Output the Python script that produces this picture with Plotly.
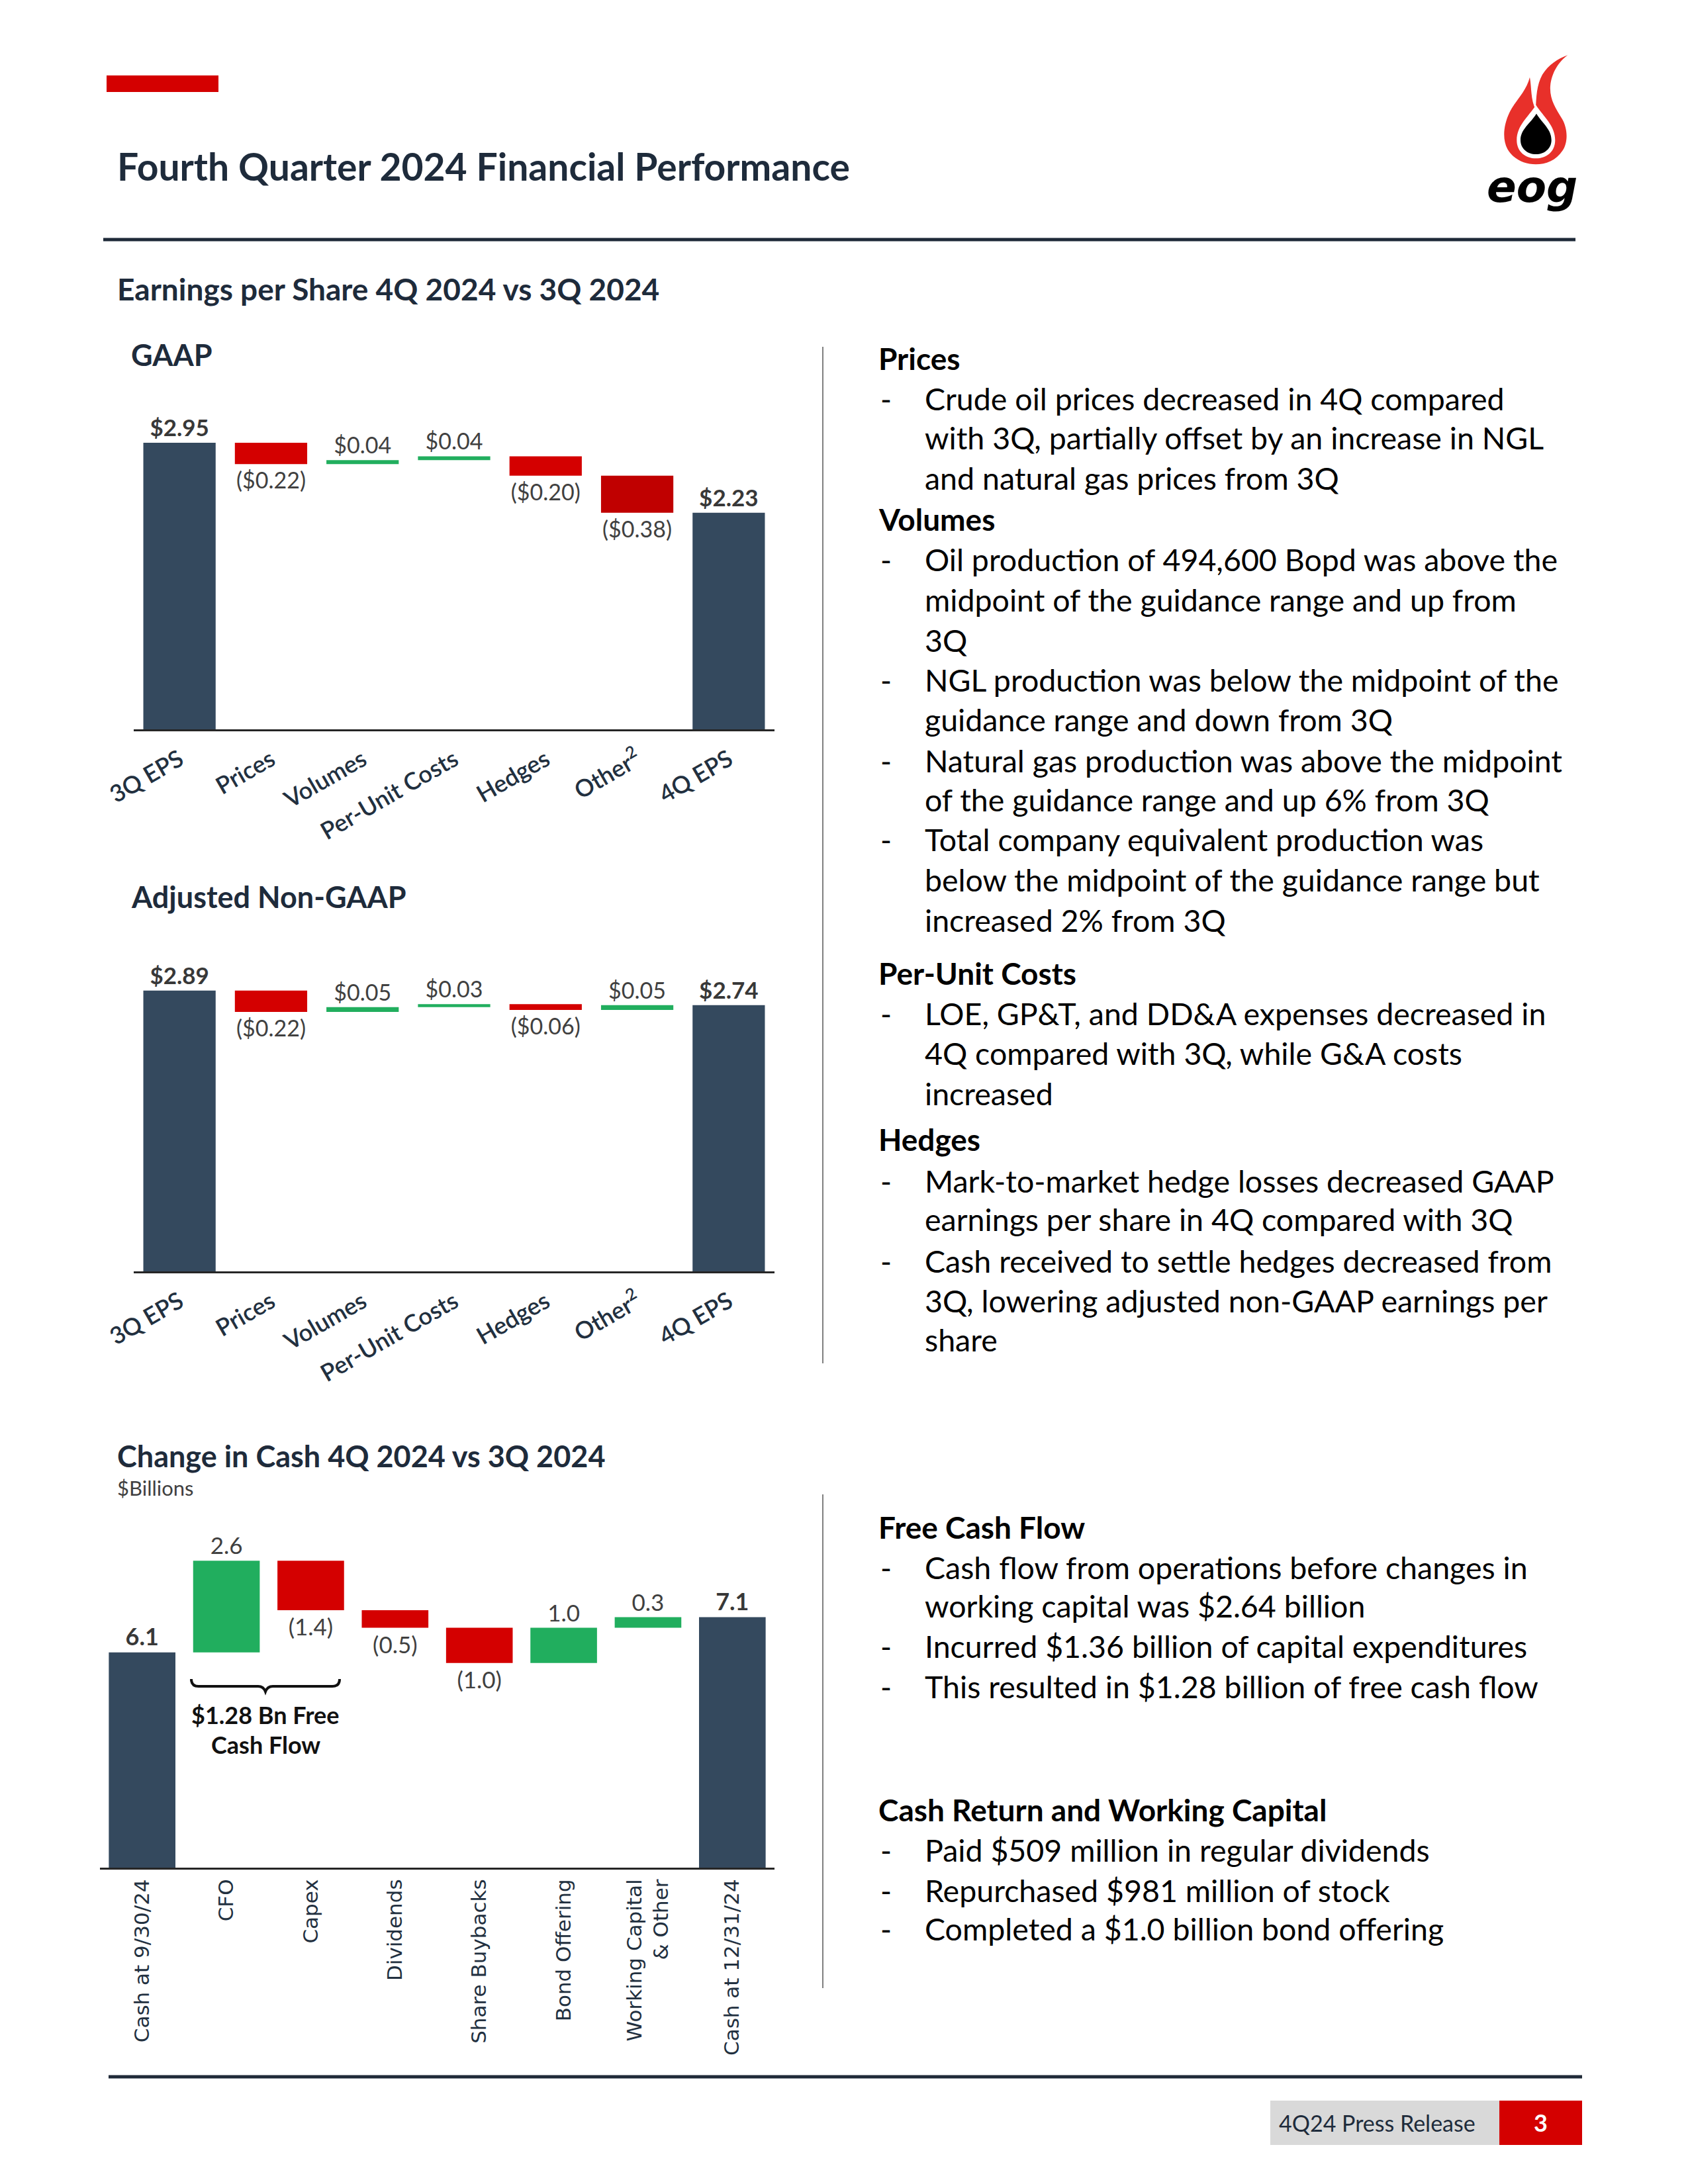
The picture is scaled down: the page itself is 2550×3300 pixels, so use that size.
import re
import plotly.graph_objects as go

# ------------------------------------------------------------------ data
eps_categories = ["3Q EPS", "Prices", "Volumes", "Per-Unit Costs", "Hedges",
                  "Other<sup>2</sup>", "4Q EPS"]
gaap_start = 2.95
gaap_changes = [-0.22, 0.04, 0.04, -0.20, -0.38]
gaap_end = 2.23

adj_start = 2.89
adj_changes = [-0.22, 0.05, 0.03, -0.06, 0.05]
adj_end = 2.74

cash_categories = ["Cash at 9/30/24", "CFO", "Capex", "Dividends", "Share Buybacks",
                   "Bond Offering", "Working Capital<br>& Other", "Cash at 12/31/24"]
cash_start = 6.1
cash_changes = [2.6, -1.4, -0.5, -1.0, 1.0, 0.3]
cash_end = 7.1

right_panel = [
    ("h", "Prices", 545),
    ("b", "Crude oil prices decreased in 4Q compared", 606),
    ("c", "with 3Q, partially offset by an increase in NGL", 665),
    ("c", "and natural gas prices from 3Q", 726),
    ("h", "Volumes", 788),
    ("b", "Oil production of 494,600 Bopd was above the", 849),
    ("c", "midpoint of the guidance range and up from", 910),
    ("c", "3Q", 971),
    ("b", "NGL production was below the midpoint of the", 1031),
    ("c", "guidance range and down from 3Q", 1091),
    ("b", "Natural gas production was above the midpoint", 1153),
    ("c", "of the guidance range and up 6% from 3Q", 1212),
    ("b", "Total company equivalent production was", 1272),
    ("c", "below the midpoint of the guidance range but", 1333),
    ("c", "increased 2% from 3Q", 1394),
    ("h", "Per-Unit Costs", 1474),
    ("b", "LOE, GP&amp;T, and DD&amp;A expenses decreased in", 1535),
    ("c", "4Q compared with 3Q, while G&amp;A costs", 1595),
    ("c", "increased", 1656),
    ("h", "Hedges", 1725),
    ("b", "Mark-to-market hedge losses decreased GAAP", 1788),
    ("c", "earnings per share in 4Q compared with 3Q", 1846),
    ("b", "Cash received to settle hedges decreased from", 1909),
    ("c", "3Q, lowering adjusted non-GAAP earnings per", 1969),
    ("c", "share", 2028),
    ("h", "Free Cash Flow", 2311),
    ("b", "Cash flow from operations before changes in", 2372),
    ("c", "working capital was $2.64 billion", 2430),
    ("b", "Incurred $1.36 billion of capital expenditures", 2491),
    ("b", "This resulted in $1.28 billion of free cash flow", 2552),
    ("h", "Cash Return and Working Capital", 2738),
    ("b", "Paid $509 million in regular dividends", 2799),
    ("b", "Repurchased $981 million of stock", 2860),
    ("b", "Completed a $1.0 billion bond offering", 2918),
]

# ------------------------------------------------------------------ styles
W, H = 2550, 3300
FONT = "Lato, 'Open Sans', sans-serif"
NAVY = "#34495E"
RED = "#D40000"
DARK_RED = "#C00000"
GREEN = "#21AE5E"
TITLE_COL = "#1E2B3B"
LABEL_COL = "#404040"
TOTAL_COL = "#383838"
gaap_colors = [RED, GREEN, GREEN, RED, DARK_RED]
adj_colors = [RED, GREEN, GREEN, RED, GREEN]
cash_colors = [GREEN, RED, RED, RED, GREEN, GREEN]
TEXT_DY = -4

fig = go.Figure()


def px_x(v):
    return v / W


def px_y(v):
    return 1 - v / H


def add_waterfall(cats, start, changes, end, colors, xa, ya, fmt_total, fmt_delta,
                  label_size, bar_w):
    fig.add_trace(go.Bar(
        x=[cats[0], cats[-1]], y=[start, end], base=[0, 0], width=bar_w,
        marker=dict(color=NAVY, line=dict(width=0)),
        text=[fmt_total(start), fmt_total(end)], textposition="outside",
        textfont=dict(family=FONT, size=label_size + 1, color=TOTAL_COL, weight="bold"),
        cliponaxis=False, constraintext="none", xaxis=xa, yaxis=ya,
        hoverinfo="skip"))
    bases = []
    level = start
    for c in changes:
        bases.append(level)
        level += c
    fig.add_trace(go.Bar(
        x=cats[1:-1], y=changes, base=bases, width=bar_w,
        marker=dict(color=colors, line=dict(width=0)),
        text=[fmt_delta(c) for c in changes], textposition="outside",
        textfont=dict(family=FONT, size=label_size, color=LABEL_COL),
        cliponaxis=False, constraintext="none", xaxis=xa, yaxis=ya,
        hoverinfo="skip"))


def eps_total(v):
    return f"${v:.2f}"


def eps_delta(v):
    return f"${v:.2f}" if v >= 0 else f"(${abs(v):.2f})"


def cash_total(v):
    return f"{v:.1f}"


def cash_delta(v):
    return f"{v:.1f}" if v >= 0 else f"({abs(v):.1f})"


add_waterfall(eps_categories, gaap_start, gaap_changes, gaap_end, gaap_colors,
              "x", "y", eps_total, eps_delta, 34, 0.79)
add_waterfall(eps_categories, adj_start, adj_changes, adj_end, adj_colors,
              "x2", "y2", eps_total, eps_delta, 34, 0.79)
add_waterfall(cash_categories, cash_start, cash_changes, cash_end, cash_colors,
              "x3", "y3", cash_total, cash_delta, 35, 0.79)

# page overlay axis in pixel units
fig.add_trace(go.Scatter(x=[0, W], y=[0, H], mode="markers", marker=dict(opacity=0),
                         xaxis="x4", yaxis="y4", hoverinfo="skip", showlegend=False))

EPS_SCALE = 146.8   # px per $ (page pixels)
CASH_SCALE = 53.3   # px per $bn


def xaxis_cfg(x0, x1, anchor, cats, angle, tfont, standoff):
    return dict(domain=[px_x(x0), px_x(x1)], anchor=anchor, type="category",
                categoryorder="array", categoryarray=cats,
                showline=True, linecolor="#262626", linewidth=3, ticks="",
                tickangle=angle, tickfont=tfont, showgrid=False, zeroline=False,
                ticklabelstandoff=standoff, fixedrange=True)


def yaxis_cfg(top, bottom, anchor, scale):
    return dict(domain=[px_y(bottom), px_y(top)], anchor=anchor,
                range=[0, (bottom - top) / scale], visible=False,
                showgrid=False, zeroline=False, fixedrange=True)


eps_tick_font = dict(family=FONT, size=36, color="#22303F", weight=600)
cash_tick_font = dict(family="'DejaVu Sans', Verdana, sans-serif", size=31, color="#22303F")

fig.update_layout(
    width=W, height=H, margin=dict(l=0, r=0, t=0, b=0),
    paper_bgcolor="white", plot_bgcolor="rgba(0,0,0,0)",
    showlegend=False, barmode="overlay", template="none",
    xaxis=xaxis_cfg(202, 1170, "y", eps_categories, -30, eps_tick_font, 8),
    yaxis=yaxis_cfg(600, 1102, "x", EPS_SCALE),
    xaxis2=xaxis_cfg(202, 1170, "y2", eps_categories, -30, eps_tick_font, 8),
    yaxis2=yaxis_cfg(1420, 1921, "x2", EPS_SCALE),
    xaxis3=xaxis_cfg(151, 1170, "y3", cash_categories, -90, cash_tick_font, 2),
    yaxis3=yaxis_cfg(2320, 2822, "x3", CASH_SCALE),
    xaxis4=dict(domain=[0, 1], anchor="y4", range=[0, W], visible=False, fixedrange=True),
    yaxis4=dict(domain=[0, 1], anchor="x4", range=[H, 0], visible=False, fixedrange=True),
)

shapes = []
annots = []


def rect(x0, y0, x1, y1, color):
    shapes.append(dict(type="rect", xref="x4", yref="y4", x0=x0, y0=y0, x1=x1, y1=y1,
                       fillcolor=color, line=dict(width=0), layer="above"))


def hline(x0, x1, y, color, width):
    shapes.append(dict(type="line", xref="x4", yref="y4", x0=x0, x1=x1, y0=y, y1=y,
                       line=dict(color=color, width=width), layer="above"))


def vline(x, y0, y1, color, width):
    shapes.append(dict(type="line", xref="x4", yref="y4", x0=x, x1=x, y0=y0, y1=y1,
                       line=dict(color=color, width=width), layer="above"))


def text(x, y, s, size, color="#000000", bold=False, anchor="left", family=FONT,
         italic=False):
    f = dict(family=family, size=size, color=color)
    if bold:
        f["weight"] = "bold"
    if italic:
        f["style"] = "italic"
    annots.append(dict(xref="x4", yref="y4", x=x, y=y, text=s, showarrow=False,
                       xanchor=anchor, yanchor="middle", font=f, align="center"))


# header
rect(161, 114, 330, 139, "#D40000")
text(175, 255 + TEXT_DY, "Fourth Quarter 2024 Financial Performance", 57, TITLE_COL, bold=True)
hline(156, 2380, 362, "#1F2A38", 5)

# section titles
text(175, 436, "Earnings per Share 4Q 2024 vs 3Q 2024", 46, TITLE_COL, bold=True)
text(196, 536, "GAAP", 45, TITLE_COL, bold=True)
text(196, 1355, "Adjusted Non-GAAP", 45, TITLE_COL, bold=True)
text(175, 2200, "Change in Cash 4Q 2024 vs 3Q 2024", 45, TITLE_COL, bold=True)
text(175, 2248, "$Billions", 31, "#404040")

# free cash flow brace + label
shapes.append(dict(type="path", xref="x4", yref="y4", layer="above",
                   path="M 289,2537 Q 289,2548 300,2548 L 390,2548 Q 398,2548 401,2556 "
                        "Q 404,2548 412,2548 L 502,2548 Q 513,2548 513,2537",
                   line=dict(color="#111111", width=4)))
text(401, 2591, "$1.28 Bn Free", 36, "#111111", bold=True, anchor="center")
text(401, 2636, "Cash Flow", 36, "#111111", bold=True, anchor="center")

# separators
vline(1243, 524, 2060, "#808080", 2)
vline(1243, 2258, 3004, "#808080", 2)

# right panel text
for kind, s, y in right_panel:
    yy = y + TEXT_DY
    if kind == "h":
        text(1325, yy, s, 46, "#000000", bold=True)
    else:
        if kind == "b":
            text(1328, yy, "-", 46, "#000000")
        text(1395, yy, s, 46.5, "#000000")

# footer
hline(164, 2390, 3138, "#1F2A38", 5)
rect(1919, 3174, 2265, 3241, "#D9D9D9")
rect(2265, 3174, 2390, 3241, "#D40000")
text(1930, 3207, "4Q24 Press Release", 34, "#1E2B3B")
text(2327, 3207, "3", 36, "#FFFFFF", bold=True, anchor="center")


# logo (drawn in a local 3x sketch space, mapped onto the page)
def logo_path(d):
    out = []
    toks = re.findall(r"[A-Za-z]|-?\d+\.?\d*", d)
    pair = 0
    for t in toks:
        if t.isalpha():
            out.append(t)
            pair = 0
        else:
            v = float(t)
            if pair % 2 == 0:
                out.append(f"{2250 + v / 3:.1f},")
            else:
                out[-1] = out[-1] + f"{70 + v / 3:.1f}"
            pair += 1
    return " ".join(out)


flame = ("M 355,40 C 318,66 282,116 276,180 C 272,240 300,280 330,330 "
         "C 354,372 358,432 332,472 C 302,518 256,535 210,535 "
         "C 158,535 108,512 82,466 C 58,420 64,358 90,302 "
         "C 116,246 166,208 183,140 C 192,190 186,240 210,288 "
         "C 212,230 214,175 240,128 C 268,84 310,56 355,40 Z")
ring = ("M 211,266 C 248,322 298,360 298,425 C 298,478 258,508 211,508 "
        "C 164,508 124,478 124,425 C 124,360 174,322 211,266 Z")
drop = ("M 213,305 C 240,350 281,375 281,425 C 281,463 250,489 211,489 "
        "C 172,489 141,463 141,425 C 141,375 186,350 213,305 Z")
for d, col in [(flame, "#E8302A"), (ring, "#FFFFFF"), (drop, "#000000")]:
    shapes.append(dict(type="path", xref="x4", yref="y4", layer="above",
                       path=logo_path(d), fillcolor=col, line=dict(width=0)))
text(2314, 282, "eog", 66, "#000000", bold=True, anchor="center",
     family="'DejaVu Sans', sans-serif", italic=True)

fig.update_layout(shapes=shapes, annotations=annots)
fig.write_html("out.html", config={"displayModeBar": False},
               post_script="document.body.style.margin='0px';")
